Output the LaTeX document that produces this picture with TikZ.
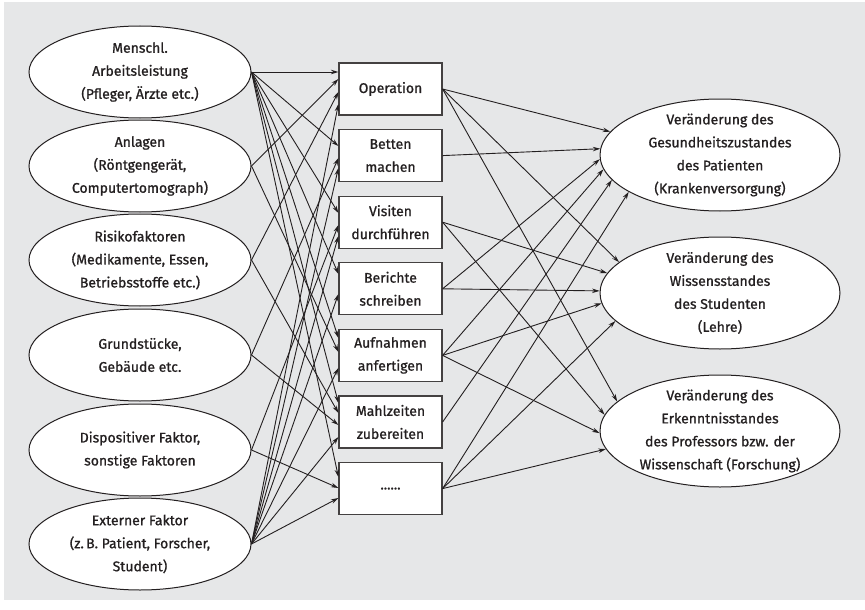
\documentclass[tikz,border=0pt]{standalone}
\usepackage{fontspec}
\setmainfont{Fira Sans}[FakeBold=1.0]
\usetikzlibrary{shapes.geometric, arrows.meta}

\definecolor{bg}{RGB}{230,231,232}
\definecolor{ink}{RGB}{35,31,32}

\tikzset{
  leftell/.style={ellipse, draw=ink, line width=1pt, fill=white,
    minimum width=222pt, minimum height=92pt, inner sep=0pt},
  rightell/.style={ellipse, draw=ink, line width=1pt, fill=white,
    minimum width=240pt, minimum height=112pt, inner sep=0pt},
  actbox/.style={rectangle, draw=ink!85, line width=1.2pt, fill=white,
    minimum width=103pt, minimum height=52pt, inner sep=0pt,
    align=center, font=\fontsize{14}{23}\selectfont, text=ink},
  txt/.style={align=center, font=\fontsize{14}{23}\selectfont,
    text=ink, inner sep=0pt},
  flow/.style={draw=ink, line width=0.9pt,
    -{Stealth[length=7.5pt,width=4.5pt]}}
}

\begin{document}
\begin{tikzpicture}[x=1pt,y=-1pt]
\useasboundingbox (0,0) rectangle (865,610);
\fill[bg] (4,2) rectangle (865,600);

% production factors
\node[leftell] (e1) at (140,72)  {};
\node[leftell] (e2) at (140,166) {};
\node[leftell] (e3) at (140,260) {};
\node[leftell] (e4) at (140,355) {};
\node[leftell] (e5) at (140,450) {};
\node[leftell] (e6) at (140,544) {};
\node[txt] (e1t) at (e1) {Menschl.\\Arbeitsleistung\\(Pfleger, Ärzte etc.)};
\node[txt] (e2t) at (e2) {Anlagen\\(Röntgengerät,\\Computertomograph)};
\node[txt] (e3t) at (e3) {Risikofaktoren\\(Medikamente, Essen,\\Betriebsstoffe etc.)};
\node[txt] (e4t) at (e4) {Grundstücke,\\Gebäude etc.};
\node[txt] (e5t) at (e5) {Dispositiver Faktor,\\sonstige Faktoren};
\node[txt] (e6t) at (e6) {Externer Faktor\\(z.\,B. Patient, Forscher,\\Student)};

% activities
\node[actbox] (b1) at (390.5,89)    {Operation};
\node[actbox] (b2) at (390.5,155.6) {Betten\\machen};
\node[actbox] (b3) at (390.5,222.2) {Visiten\\durchführen};
\node[actbox] (b4) at (390.5,288.8) {Berichte\\schreiben};
\node[actbox] (b5) at (390.5,355.4) {Aufnahmen\\anfertigen};
\node[actbox] (b6) at (390.5,422)   {Mahlzeiten\\zubereiten};
\node[actbox] (b7) at (390.5,488.6) {......};

% outputs
\node[rightell] (r1) at (720,155) {};
\node[rightell] (r2) at (720,293) {};
\node[rightell] (r3) at (720,431) {};
\node[txt] (r1t) at (r1) {Veränderung des\\Gesundheitszustandes\\des Patienten\\(Krankenversorgung)};
\node[txt] (r2t) at (r2) {Veränderung des\\Wissensstandes\\des Studenten\\(Lehre)};
\node[txt] (r3t) at (r3) {Veränderung des\\Erkenntnisstandes\\des Professors bzw. der\\Wissenschaft (Forschung)};

% factors -> activities
\foreach \b/\s in {b1/17, b2/9.6, b3/9.2, b4/14.8, b5/17.4, b6/19, b7/11.6}
  \draw[flow] (e1.east) -- ([yshift=\s pt]\b.west);
\foreach \b/\s in {b1/10, b5/3.4}
  \draw[flow] (e2.east) -- ([yshift=\s pt]\b.west);
\foreach \b/\s in {b1/-3, b6/9}
  \draw[flow] (e3.east) -- ([yshift=\s pt]\b.west);
\foreach \b/\s in {b2/-2.4, b6/-3}
  \draw[flow] (e4.east) -- ([yshift=\s pt]\b.west);
\foreach \b/\s in {b3/-2.8, b7/0.6}
  \draw[flow] (e5.east) -- ([yshift=\s pt]\b.west);
\foreach \b/\s in {b1/-15, b2/-12.4, b3/-13.8, b4/-5.2, b5/-12.6, b6/-15, b7/-9.4}
  \draw[flow] (e6.east) -- ([yshift=\s pt]\b.west);

% activities -> outputs
\foreach \r/\a in {r1/168.7, r2/163.5, r3/164.2}
  \draw[flow] (b1.east) -- (\r.\a);
\draw[flow] (b2.east) -- (r1.177.1);
\foreach \r/\a in {r2/170.9, r3/172}
  \draw[flow] (b3.east) -- (\r.\a);
\foreach \r/\a in {r1/182.4, r2/179.5}
  \draw[flow] (b4.east) -- (\r.\a);
\foreach \r/\a in {r1/187.4, r2/185.9, r3/181.9}
  \draw[flow] (b5.east) -- (\r.\a);
\draw[flow] (b6.east) -- (r1.193.2);
\foreach \r/\a in {r1/202.2, r2/195.8, r3/189.6}
  \draw[flow] (b7.east) -- (\r.\a);
\end{tikzpicture}
\end{document}
